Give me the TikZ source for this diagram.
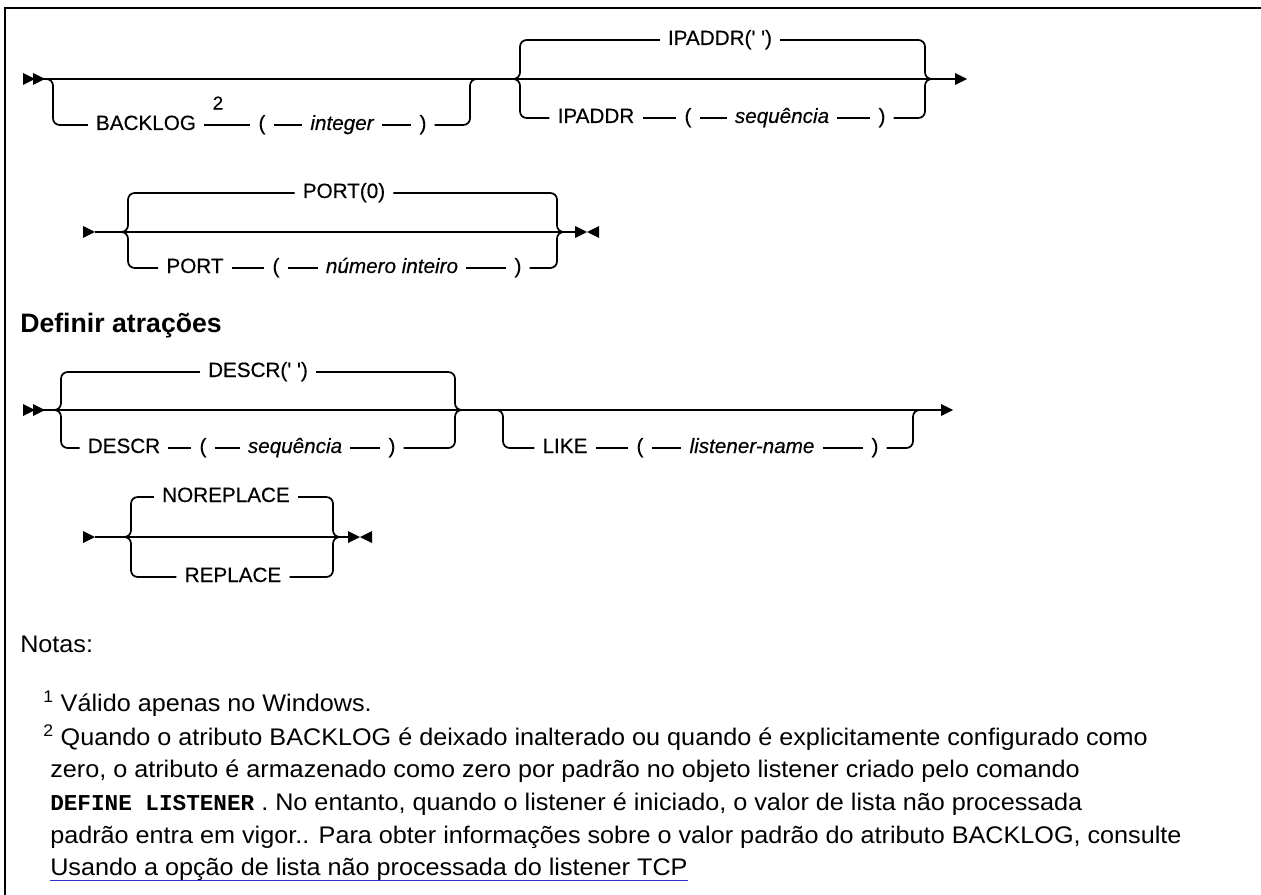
\documentclass[tikz,border=0pt]{standalone}
\usepackage{fontspec}
\setmainfont{Liberation Sans}
\newfontfamily\codefont{Liberation Mono}
\newfontfamily\railfont[FakeBold=0.4]{Liberation Sans}
\newfontfamily\notefont[FakeStretch=1.05]{Liberation Sans}
\usepackage{tikz}

% small filled arrow heads of the rails
\newcommand{\tipR}[2]{\fill (#1,#2-6) -- (#1+12,#2) -- (#1,#2+6) -- cycle;}
\newcommand{\tipL}[2]{\fill (#1+12,#2-6) -- (#1,#2) -- (#1+12,#2+6) -- cycle;}

\tikzset{
  rail/.style={line width=1.3pt, rounded corners=5pt},
  kw/.style={inner xsep=6pt, inner ysep=0pt, text height=10.5pt, text depth=3pt,
    font=\railfont\fontsize{15.5}{18}\selectfont},
  var/.style={kw, font=\railfont\fontsize{15.5}{18}\selectfont\itshape},
  sup/.style={inner sep=0pt, font=\railfont\fontsize{14}{16}\selectfont},
  note/.style={anchor=base west, inner sep=0pt, font=\notefont\fontsize{18}{21}\selectfont},
}

\begin{document}
\begin{tikzpicture}[x=0.75pt, y=-0.75pt]
  \useasboundingbox (0,0) rectangle (1261,895);
  % frame
  \draw[line width=1.6pt] (5,895) -- (5,8) -- (1261,8);

  % ---- first rail: BACKLOG, IPADDR
  \tipR{23}{79} \tipR{33}{79}
  \coordinate (s1) at (43,79);
  \coordinate (e1) at (955,79);
  \draw[rail] (s1) -- (e1);
  \tipR{955}{79}

  \coordinate (blL) at (45,79);  \coordinate (blLa) at (53,79);
  \coordinate (blRa) at (470,79); \coordinate (blR) at (478,79);
  \node[kw] (bkw) at (146,125) {BACKLOG};
  \node[sup] (bsup) at (218,103) {2};
  \node[kw] (blp) at (262,125) {(};
  \node[var] (bint) at (342,125) {integer};
  \node[kw] (brp) at (423,125) {)};
  \draw[rail] (blL) -- (blLa) |- (bkw.west);
  \draw[rail] (bkw) -- (blp) -- (bint) -- (brp);
  \draw[rail] (brp.east) -| (blRa) -- (blR);

  \coordinate (ipL) at (512,79); \coordinate (ipLa) at (520,79);
  \coordinate (ipRa) at (925,79); \coordinate (ipR) at (933,79);
  \node[kw] (ipdef) at (720,40) {IPADDR(\textquotesingle\ \textquotesingle)};
  \node[kw] (ipkw) at (596,118) {IPADDR};
  \node[kw] (iplp) at (688,118) {(};
  \node[var] (ipseq) at (782,118) {sequência};
  \node[kw] (iprp) at (882,118) {)};
  \draw[rail] (ipL) -- (ipLa) |- (ipdef.west);
  \draw[rail] (ipdef.east) -| (ipRa) -- (ipR);
  \draw[rail] (ipL) -- (ipLa) |- (ipkw.west);
  \draw[rail] (ipkw) -- (iplp) -- (ipseq) -- (iprp);
  \draw[rail] (iprp.east) -| (ipRa) -- (ipR);

  % ---- second rail: PORT
  \tipR{83}{232}
  \coordinate (s2) at (95,232);
  \coordinate (e2) at (575,232);
  \draw[rail] (s2) -- (e2);
  \tipR{575}{232} \tipL{587}{232}

  \coordinate (poL) at (122,232); \coordinate (poLa) at (128,232);
  \coordinate (poRa) at (557,232); \coordinate (poR) at (563,232);
  \node[kw] (podef) at (344,193) {PORT(0)};
  \node[kw] (pokw) at (195,268) {PORT};
  \node[kw] (polp) at (276,268) {(};
  \node[var] (ponum) at (392,268) {número inteiro};
  \node[kw] (porp) at (518,268) {)};
  \draw[rail] (poL) -- (poLa) |- (podef.west);
  \draw[rail] (podef.east) -| (poRa) -- (poR);
  \draw[rail] (poL) -- (poLa) |- (pokw.west);
  \draw[rail] (pokw) -- (polp) -- (ponum) -- (porp);
  \draw[rail] (porp.east) -| (poRa) -- (poR);

  % heading
  \node[anchor=base west, inner sep=0pt, font=\fontsize{20}{23}\selectfont\bfseries]
    (head) at (20,332) {Definir atrações};

  % ---- third rail: DESCR, LIKE
  \tipR{23}{410} \tipR{33}{410}
  \coordinate (s3) at (43,410);
  \coordinate (e3) at (941,410);
  \draw[rail] (s3) -- (e3);
  \tipR{941}{410}

  \coordinate (deL) at (55,410); \coordinate (deLa) at (61,410);
  \coordinate (deRa) at (455,410); \coordinate (deR) at (461,410);
  \node[kw] (dedef) at (258,372) {DESCR(\textquotesingle\ \textquotesingle)};
  \node[kw] (dekw) at (124,448) {DESCR};
  \node[kw] (delp) at (203,448) {(};
  \node[var] (deseq) at (295,448) {sequência};
  \node[kw] (derp) at (392,448) {)};
  \draw[rail] (deL) -- (deLa) |- (dedef.west);
  \draw[rail] (dedef.east) -| (deRa) -- (deR);
  \draw[rail] (deL) -- (deLa) |- (dekw.west);
  \draw[rail] (dekw) -- (delp) -- (deseq) -- (derp);
  \draw[rail] (derp.east) -| (deRa) -- (deR);

  \coordinate (lkL) at (495,410); \coordinate (lkLa) at (503,410);
  \coordinate (lkRa) at (913,410); \coordinate (lkR) at (921,410);
  \node[kw] (lkkw) at (565,448) {LIKE};
  \node[kw] (lklp) at (640,448) {(};
  \node[var] (lkname) at (752,448) {listener-name};
  \node[kw] (lkrp) at (875,448) {)};
  \draw[rail] (lkL) -- (lkLa) |- (lkkw.west);
  \draw[rail] (lkkw) -- (lklp) -- (lkname) -- (lkrp);
  \draw[rail] (lkrp.east) -| (lkRa) -- (lkR);

  % ---- fourth rail: NOREPLACE / REPLACE
  \tipR{83}{537}
  \coordinate (s4) at (95,537);
  \coordinate (e4) at (348,537);
  \draw[rail] (s4) -- (e4);
  \tipR{348}{537} \tipL{360}{537}

  \coordinate (nrL) at (125,537); \coordinate (nrLa) at (131,537);
  \coordinate (nrRa) at (333,537); \coordinate (nrR) at (339,537);
  \node[kw] (nrdef) at (226,497) {NOREPLACE};
  \node[kw] (nrkw) at (233,577) {REPLACE};
  \draw[rail] (nrL) -- (nrLa) |- (nrdef.west);
  \draw[rail] (nrdef.east) -| (nrRa) -- (nrR);
  \draw[rail] (nrL) -- (nrLa) |- (nrkw.west);
  \draw[rail] (nrkw.east) -| (nrRa) -- (nrR);

  % notes
  \node[note] (notas) at (20,652) {Notas:};
  \node[note] (n1) at (43,711) {\textsuperscript{1} Válido apenas no Windows.};
  \node[note] (n2) at (43,745) {\textsuperscript{2} Quando o atributo BACKLOG é deixado inalterado ou quando é explicitamente configurado como};
  \node[note] (n3) at (50,777) {zero, o atributo é armazenado como zero por padrão no objeto listener criado pelo comando};
  \node[note] (n4) at (50,810) {{\codefont\bfseries\fontsize{17}{20}\selectfont DEFINE LISTENER} . No entanto, quando o listener é iniciado, o valor de lista não processada};
  \node[note] (n5) at (50,843) {padrão entra em vigor.. Para obter informações sobre o valor padrão do atributo BACKLOG, consulte};
  \node[note] (link) at (50,875) {Usando a opção de lista não processada do listener TCP};
  \draw[line width=0.8pt, blue!60!gray] (link.south west) -- (link.south east);
\end{tikzpicture}
\end{document}
